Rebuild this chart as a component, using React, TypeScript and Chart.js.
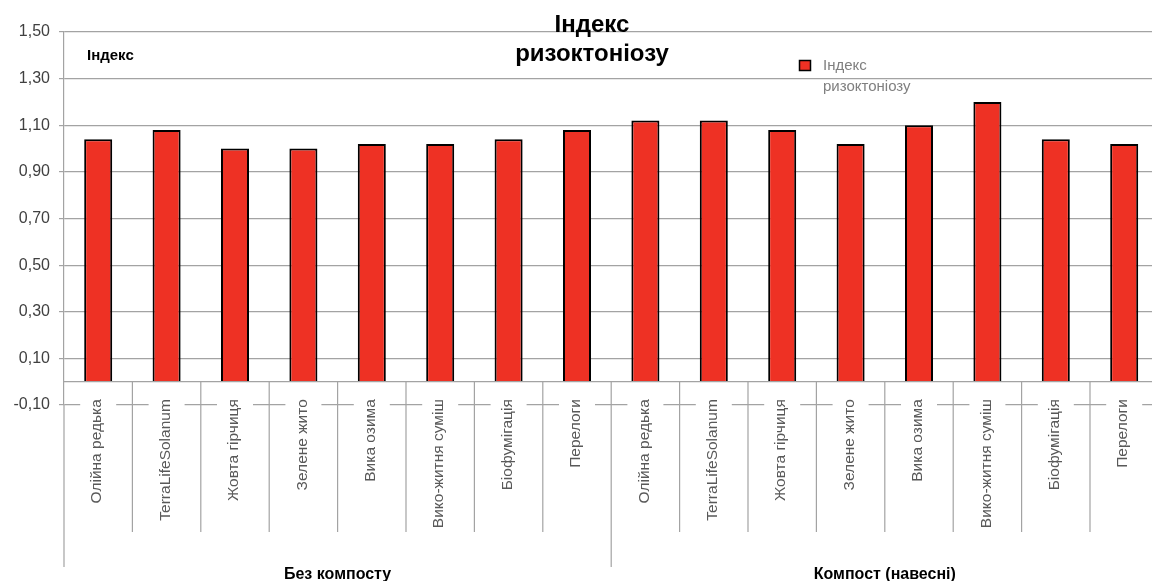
import React, { useEffect, useRef } from "react";
import { Chart, registerables } from "chart.js";

Chart.register(...registerables);

// Crops, grouped by compost treatment
const crops = [
  "Олійна редька",
  "TerraLifeSolanum",
  "Жовта гірчиця",
  "Зелене жито",
  "Вика озима",
  "Вико-житня суміш",
  "Біофумігація",
  "Перелоги",
];
const groupNames = ["Без компосту", "Компост (навесні)"];

// Rhizoctonia index per crop
const noCompost = [1.04, 1.08, 1.0, 1.0, 1.02, 1.02, 1.04, 1.08];
const springCompost = [1.12, 1.12, 1.08, 1.02, 1.1, 1.2, 1.04, 1.02];

const yTicks = [-0.1, 0.1, 0.3, 0.5, 0.7, 0.9, 1.1, 1.3, 1.5];
const seriesName = ["Індекс", "ризоктоніозу"];
const titleLines = ["Індекс", "ризоктоніозу"];
const yAxisTitle = "Індекс";

const FONT = '"Liberation Sans", Arial, Helvetica, sans-serif';
const GRID = "#a3a3a3";
const BAR = "#ee3124";

const labels = [...crops, ...crops];
const values = [...noCompost, ...springCompost];

const overlay = {
  id: "overlay",
  afterDraw(chart: any) {
    const { ctx, chartArea: a, scales } = chart;
    const x = scales.x;
    const y = scales.y;
    const y0 = y.getPixelForValue(0);
    const n = labels.length;
    const perGroup = crops.length;
    const catW = (a.right - a.left) / n;
    const sepEnd = 532;
    const groupSepEnd = 567;

    ctx.save();

    // category labels (rotated), with white backing over the bottom grid line
    ctx.font = `15.5px ${FONT}`;
    for (let i = 0; i < n; i++) {
      const cx = x.getPixelForValue(i);
      ctx.fillStyle = "#ffffff";
      ctx.fillRect(cx - 18, y0 + 12, 36, 30);
      ctx.save();
      ctx.translate(cx - 1, y0 + 17.5);
      ctx.rotate(-Math.PI / 2);
      ctx.textAlign = "right";
      ctx.textBaseline = "middle";
      ctx.fillStyle = "#595959";
      ctx.fillText(labels[i], 0, 0);
      ctx.restore();
    }

    // zero line, axis extension and category separators
    ctx.strokeStyle = GRID;
    ctx.lineWidth = 1.2;
    ctx.beginPath();
    ctx.moveTo(a.left, y0);
    ctx.lineTo(a.right, y0);
    ctx.moveTo(a.left, a.bottom);
    ctx.lineTo(a.left, groupSepEnd);
    for (let k = 1; k < n; k++) {
      const sx = a.left + k * catW;
      ctx.moveTo(sx, y0);
      ctx.lineTo(sx, k % perGroup === 0 ? groupSepEnd : sepEnd);
    }
    ctx.stroke();

    // group labels
    ctx.font = `bold 16px ${FONT}`;
    ctx.fillStyle = "#000000";
    ctx.textAlign = "center";
    ctx.textBaseline = "alphabetic";
    groupNames.forEach((g, gi) => {
      const gx = a.left + (gi * perGroup + perGroup / 2) * catW;
      ctx.fillText(g, gx, 579);
    });

    // chart title
    ctx.font = `bold 24px ${FONT}`;
    ctx.fillText(titleLines[0], 592, 32);
    ctx.fillText(titleLines[1], 592, 61);

    // value axis title
    ctx.font = `bold 15px ${FONT}`;
    ctx.textAlign = "left";
    ctx.fillText(yAxisTitle, 87, 60);

    // legend
    ctx.fillStyle = BAR;
    ctx.strokeStyle = "#000000";
    ctx.lineWidth = 1.5;
    ctx.fillRect(799.5, 60.5, 11, 10);
    ctx.strokeRect(799.5, 60.5, 11, 10);
    ctx.font = `15px ${FONT}`;
    ctx.fillStyle = "#7f7f7f";
    ctx.fillText(seriesName[0], 823, 70);
    ctx.fillText(seriesName[1], 823, 91);

    ctx.restore();
  },
};

export default function App() {
  const ref = useRef<HTMLCanvasElement | null>(null);

  useEffect(() => {
    if (!ref.current) return;
    const chart = new Chart(ref.current, {
      type: "bar",
      data: {
        labels,
        datasets: [
          {
            label: seriesName.join(" "),
            data: values,
            backgroundColor: BAR,
            borderColor: "#000000",
            borderWidth: 2,
            borderSkipped: "start",
            barPercentage: 0.41,
            categoryPercentage: 1,
          },
        ],
      },
      options: {
        responsive: false,
        animation: false,
        devicePixelRatio: 1,
        layout: { padding: { left: 0, top: 32, right: 11.6, bottom: 176 } },
        plugins: {
          legend: { display: false },
          title: { display: false },
          tooltip: { enabled: false },
        },
        scales: {
          x: {
            type: "category",
            display: false,
            offset: true,
            grid: { display: false },
          },
          y: {
            min: -0.1,
            max: 1.5,
            afterFit: (s: any) => {
              s.width = 64;
            },
            afterBuildTicks: (s: any) => {
              s.ticks = yTicks.map((v) => ({ value: v }));
            },
            border: { display: true, color: GRID, width: 1.2 },
            grid: { color: GRID, lineWidth: 1.2, drawTicks: true, tickLength: 5 },
            ticks: {
              padding: 9,
              color: "#404040",
              font: { family: FONT, size: 16 },
              callback: (v: any) => Number(v).toFixed(2).replace(".", ","),
            },
          },
        },
      },
      plugins: [overlay],
    });
    return () => chart.destroy();
  }, []);

  return (
    <div
      style={{
        position: "fixed",
        left: 0,
        top: 0,
        width: 1152,
        height: 581,
        overflow: "hidden",
        background: "#ffffff",
      }}
    >
      <canvas ref={ref} width={1170} height={581} style={{ display: "block" }} />
    </div>
  );
}
